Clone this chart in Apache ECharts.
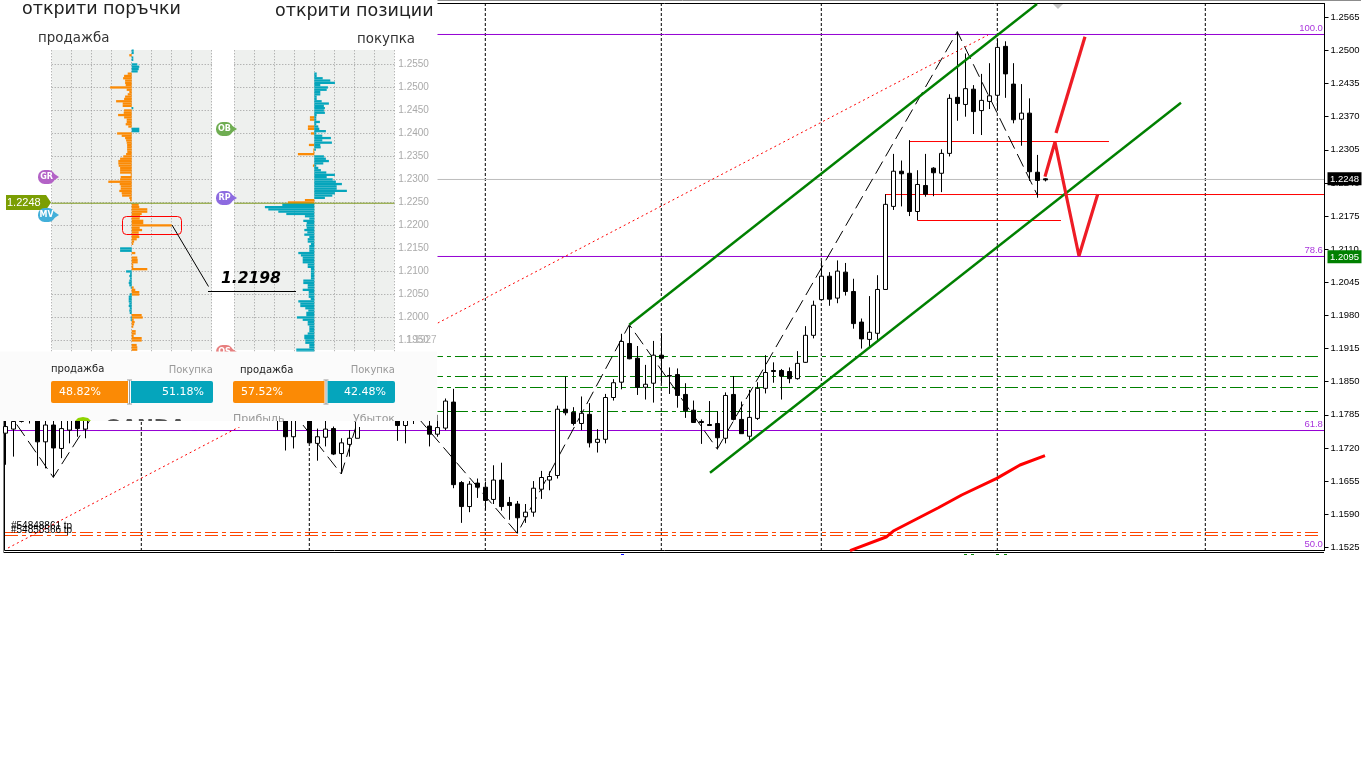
<!DOCTYPE html>
<html><head><meta charset="utf-8">
<style>html,body{margin:0;padding:0;background:#fff}#c{width:1366px;height:768px}</style>
<script src="https://cdn.jsdelivr.net/npm/echarts@6/dist/echarts.min.js"></script>
</head><body><div id="c"></div>
<script>
// ---------- main price chart data: [open, close, low, high], index = bar number ----------
const H = ['-','-','-','-'];
const candlesLeft = [ // bars 0-54 (most hidden by the order-book panel)
[1.1749,1.1762,1.1687,1.1785],[1.1757,1.1772,1.1703,1.1785],[1.1772,1.1780,1.1770,1.1785],[1.1785,1.1790,1.1768,1.1795],
[1.1790,1.1732,1.1685,1.1795],[1.1732,1.1765,1.1680,1.1785],[1.1765,1.1720,1.1662,1.1785],[1.1719,1.1758,1.1700,1.1785],
[1.1755,1.1790,1.1729,1.1795],[1.1790,1.1758,1.1742,1.1795],[1.1757,1.1790,1.1739,1.1795],
H,H,H,H,H,H,H,H,H,H,H,H,H,H,H,H,H,H,H,H,H,H,H,
[1.1790,1.1785,1.1755,1.1795],[1.1790,1.1742,1.1715,1.1795],[1.1742,1.1790,1.1719,1.1795],H,
[1.1790,1.1730,1.1729,1.1795],[1.1729,1.1742,1.1695,1.1758],[1.1741,1.1757,1.1723,1.1775],[1.1758,1.1708,1.1706,1.1762],
[1.1709,1.1730,1.1669,1.1739],[1.1727,1.1739,1.1703,1.1755],[1.1739,1.1790,1.1739,1.1795],H,H,H,H,
[1.1790,1.1764,1.1734,1.1795],[1.1764,1.1790,1.1729,1.1795],[1.1790,1.1785,1.1767,1.1795],H,
[1.1763,1.1747,1.1723,1.1785],[1.1747,1.1760,1.1742,1.1785]];
const candlesMid = [ // bars 55-101
[1.1759,1.1812,1.1755,1.1817],[1.1810,1.1648,1.1641,1.1836],[1.1652,1.1605,1.1573,1.1655],[1.1605,1.1649,1.1594,1.1655],
[1.1651,1.1643,1.1622,1.1660],[1.1643,1.1617,1.1598,1.1654],[1.1619,1.1657,1.1610,1.1686],[1.1657,1.1605,1.1597,1.1691],
[1.1613,1.1607,1.1579,1.1624],[1.1610,1.1583,1.1553,1.1616],[1.1585,1.1594,1.1573,1.1610],[1.1594,1.1641,1.1585,1.1655],
[1.1639,1.1662,1.1620,1.1675],[1.1657,1.1664,1.1637,1.1674],[1.1666,1.1796,1.1660,1.1803],[1.1796,1.1789,1.1784,1.1860],
[1.1790,1.1768,1.1764,1.1800],[1.1768,1.1788,1.1755,1.1821],[1.1786,1.1730,1.1721,1.1808],[1.1731,1.1737,1.1711,1.1757],
[1.1737,1.1819,1.1729,1.1826],[1.1819,1.1848,1.1813,1.1855],[1.1849,1.1929,1.1835,1.1944],[1.1925,1.1895,1.1894,1.1960],
[1.1896,1.1839,1.1824,1.1920],[1.1839,1.1845,1.1815,1.1883],[1.1847,1.1902,1.1809,1.1930],[1.1902,1.1896,1.1847,1.1945],
[1.1862,1.1861,1.1826,1.1878],[1.1864,1.1823,1.1799,1.1876],[1.1825,1.1793,1.1779,1.1847],[1.1794,1.1770,1.1770,1.1813],
[1.1772,1.1770,1.1728,1.1776],[1.1766,1.1764,1.1764,1.1812],[1.1768,1.1740,1.1717,1.1792],[1.1739,1.1823,1.1729,1.1829],
[1.1825,1.1776,1.1774,1.1861],[1.1776,1.1748,1.1748,1.1811],[1.1743,1.1780,1.1736,1.1834],[1.1778,1.1837,1.1775,1.1849],
[1.1837,1.1868,1.1827,1.1902],[1.1872,1.1870,1.1848,1.1888],[1.1872,1.1861,1.1815,1.1875],[1.1870,1.1856,1.1847,1.1878],
[1.1856,1.1886,1.1854,1.1910],[1.1888,1.1941,1.1887,1.1959],[1.1941,1.2000,1.1935,1.2009]];
const candlesRight = [ // bars 102-130
[1.2011,1.2057,1.2010,1.2087],[1.2057,1.2012,1.1999,1.2065],[1.2014,1.2067,1.2004,1.2088],[1.2065,1.2027,1.2019,1.2083],
[1.2027,1.1964,1.1954,1.2052],[1.1967,1.1934,1.1915,1.1974],[1.1933,1.1947,1.1916,1.2018],[1.1945,1.2031,1.1932,1.2059],
[1.2031,1.2198,1.2031,1.2218],[1.2194,1.2263,1.2187,1.2297],[1.2263,1.2258,1.2194,1.2284],[1.2259,1.2184,1.2175,1.2324],
[1.2184,1.2237,1.2167,1.2265],[1.2235,1.2218,1.2213,1.2297],[1.2269,1.2260,1.2214,1.2271],[1.2259,1.2298,1.2222,1.2306],
[1.2298,1.2406,1.2292,1.2414],[1.2408,1.2396,1.2362,1.2537],[1.2394,1.2425,1.2370,1.2494],[1.2424,1.2380,1.2336,1.2432],
[1.2382,1.2402,1.2334,1.2454],[1.2400,1.2411,1.2385,1.2475],[1.2412,1.2506,1.2383,1.2522],[1.2508,1.2454,1.2407,1.2518],
[1.2434,1.2364,1.2357,1.2475],[1.2365,1.2377,1.2313,1.2434],[1.2377,1.2262,1.2244,1.2406],[1.2261,1.2245,1.2211,1.2295],
[1.2248,1.2246,1.2243,1.2249]];
const barCount = 166;

// price axis
const yTicks = [1.1525,1.1590,1.1655,1.1720,1.1785,1.1850,1.1915,1.1980,1.2045,1.2110,1.2175,1.2240,1.2305,1.2370,1.2435,1.2500,1.2565];
const priceMin = 1.15178, priceMax = 1.25931;
const frameMin = 1.15188, frameMax = 1.25921;
const tagBid = 1.2248, tagGreen = 1.2095;

// horizontal levels [price]
const fibLevels = [1.25313,1.20957,1.17542];
const fibLabels = [['100.0',1.25313],['78.6',1.20957],['61.8',1.17542],['50.0',1.15185]];
const greenLevels = [1.18994,1.18602,1.18386,1.17915];
const orangeLevels = [1.15541,1.15482];
const bidLevel = 1.22468;
const redLevels = [[110,164.84,1.22173],[113,137.96,1.23213],[114,131.96,1.21663]]; // from bar, to bar, price
const vGridBars = [17,38,60,82,102,124,150];

// trend lines as [bar, price]
const channelUpper = [[78,1.19618],[128.96,1.25912]];
const channelLower = [[88.09,1.16714],[146.96,1.23975]];
const dottedTrend = [[0.34,1.15237],[122.84,1.25303]];
const zigzag = [[0,1.17984],[6,1.16624],[22.34,1.20633],[42,1.16689],[46.14,1.18788],[64,1.15525],[78,1.19618],[89,1.17179],[119,1.25368],[129,1.22164]];
const forecastA = [[131.34,1.2338],[134.96,1.2527]];
const forecastB = [[129.96,1.22523],[131.21,1.23204],[134.21,1.20967],[136.55,1.22177]];
const redCurve = [[105.59,1.15187],[110.18,1.15458],[111,1.1557],[116.63,1.16027],[119.55,1.16277],[123.93,1.16604],[126.84,1.16865],[129.96,1.17048]];

// ---------- order book: buckets of 0.0005 from 1.2600 downwards, signed % ----------
const bookLeftOrange = [
0,0,0,0,0,0,-.12,0,0,0, 0,0,0,0,-.2,-.38,-.43,-.33,-.33,-.3,
-1.08,-.25,-.12,-.2,-.33,-.38,-.78,-.45,-.45,0, -.38,-.4,-.68,-.38,-.25,-.25,-.3,-.17,0,0,
-.73,-.5,-.33,-.28,-.25,-.23,-.23,-.23,-.22,-.28, -.42,-.58,-.67,-.67,-.65,-.58,-.58,-.58,-.05,-.55,
-.58,-1.17,-.6,-.55,-.55,-.62,-.5,-.48,-.12,-.08, 0,.35,.38,.78,.78,.5,.42,.4,.58,.58,
2,.4,.52,.35,.35,.38,.25,.12,.08,0, 0,0,.18,0,.28,.3,.3,.08,.08,.78,
0,0,0,0,0,0,0,.1,.18,.38, .38,0,0,0,0,0,0,0,0,.5,
.55,.1,.15,.12,.08,0,.2,.2,.1,.5, .5,0,.25,.28,.28,0,0,0,0,0];
const bookLeftTeal = [
0,0,0,0,.1,.1,0,.08,.08,0, .28,.38,.35,.3,0,0,0,0,0,0,
0,0,0,0,0,0,0,0,0,.08, 0,0,0,0,0,0,0,0,.38,.38,
0,0,0,0,0,0,0,0,0,0, 0,0,0,0,0,0,0,0,0,0,
0,0,0,0,0,0,0,0,0,0, 0,0,0,0,0,0,0,0,0,0,
0,0,0,0,0,0,0,0,0,0, -.58,-.58,0,0,0,0,0,0,0,0,
-.28,-.08,-.12,-.08,-.12,-.15,-.12,-.05,0,0, -.1,-.15,-.15,-.15,-.12,-.15,-.1,-.12,-.1,0,
-.05,-.05,0,0,0,0,0,0,0,0, 0,0,0,0,0,0,0,0,0,0];
const bookRightOrange = [
0,0,0,0,0,0,0,0,0,0, 0,0,0,0,0,0,0,0,0,0,
0,0,0,0,0,0,0,0,0,0, 0,0,0,-.22,-.22,0,0,-.32,-.32,0,
-.17,0,0,0,0,-.27,0,-.05,-.05,-.82, 0,0,0,0,-.07,0,0,0,0,0,
0,0,0,0,0,0,0,0,0,-.47, -1.32,0,0,0,0,0,0,0,0,0,
0,0,0,0,0,0,0,0,0,0, 0,0,0,0,0,0,0,0,0,0,
0,0,0,0,0,0,0,0,0,0, 0,0,0,0,0,0,0,0,0,0,
0,0,0,0,0,0,0,0,0,0, 0,0,0,0,0,0,0,0,0,0];
const bookRightTeal = [
0,0,0,0,0,0,0,0,0,0, 0,0,0,0,.12,.12,.42,.8,1.03,.3,
.68,.62,.3,.3,.12,.12,.37,.73,.48,.53, .48,.53,.12,.1,.1,.28,.1,.2,.25,.58,
.1,.4,.83,.4,.88,.3,.32,.08,0,0, .48,.58,.73,.45,.1,.2,.33,.6,1.03,.62,
.92,1.08,1.38,1.12,1.12,1.63,1.03,.9,.53,0, 0,-1.6,-2.47,-2.3,-1.8,-1.4,-.47,-.25,-.55,-.38,
-.4,-.38,-.5,-.35,-.5,-.25,-.33,-.33,-.17,-.25, -.25,-.25,-.8,-.67,-.58,-.58,-.58,-.33,-.33,-.17,
-.17,-.17,-.17,-.17,-.55,-.55,-.33,-.33,-.58,-.28, -.28,-.28,-.18,-.8,-.7,-.7,-.45,-.3,-.4,-.4,
-.87,-.58,-.33,-.33,-.25,-.25,-.25,-.33,-.5,-.5, -.45,-.45,-.25,-.25,-.9,-.9,0,0,0,0];
const bookPrice = 1.2248;
const sentimentOrders = [48.82,51.18];
const sentimentPositions = [57.52,42.48];

// ---------- colours ----------
const ORANGE='#fb8a05', TEAL='#05a5bc', PURPLE='#9400d3', GREEN='#008000', REDORANGE='#ff4500';

const candles = candlesLeft.concat(candlesMid, candlesRight);
const xCats = Array.from({length:barCount},(_,i)=>String(i));
const bookCats = bookLeftOrange.map((_,i)=>(1.26-0.0005*i).toFixed(4));

function line(data,color,width,type,z,extra){
  return Object.assign({type:'line',xAxisIndex:1,yAxisIndex:0,data:data,showSymbol:false,symbol:'none',silent:true,
    animation:false,z:z||3,lineStyle:{color:color,width:width||1,type:type||'solid'}},extra||{});
}
const series = [];
// vertical separators
const vData=[]; vGridBars.forEach(b=>{vData.push([b,priceMin],[b,priceMax],[b,null]);});
series.push(line(vData,'#000',1,[3,2],2,{connectNulls:false}));
// levels
greenLevels.forEach(p=>series.push(line([[-0.04,p],[164.34,p]],GREEN,1,[13,4,4,4],2)));
orangeLevels.forEach(p=>series.push(line([[-0.04,p],[164.34,p]],REDORANGE,1,[13,4,4,4],2)));
series.push(line([[-0.04,bidLevel],[164.84,bidLevel]],'#bdbdbd',1,'solid',2));
fibLevels.forEach(p=>series.push(line([[-0.04,p],[164.84,p]],PURPLE,1,'solid',3)));
redLevels.forEach(r=>series.push(line([[r[0],r[2]],[r[1],r[2]]],'#f00',1,'solid',3)));
// candles
series.push({type:'candlestick',xAxisIndex:0,yAxisIndex:0,data:candles,barWidth:5,silent:true,animation:false,z:3,
  itemStyle:{color:'#fff',color0:'#000',borderColor:'#000',borderColor0:'#000',borderWidth:1}});
// trend lines
series.push(line(dottedTrend,'#f00',1,[2,3],3));
series.push(line(zigzag,'#000',1,[14,6],3));
series.push(line(channelUpper,GREEN,2.4,'solid',4));
series.push(line(channelLower,GREEN,2.4,'solid',4));
series.push(line(forecastA,'#ee1c25',3.2,'solid',4));
series.push(line(forecastB,'#ee1c25',3.2,'solid',4));
series.push(line(redCurve,'#f00',3,'solid',4));
// 61.8 level and separator where they pass under the panel's clipped logo
series.push(line([[11.5,fibLevels[2]],[24,fibLevels[2]]],PURPLE,1,'solid',14));
series.push(line([[17,1.1771],[17,1.1743]],'#000',1,[3,2],14));
// fib labels
series.push({type:'scatter',xAxisIndex:1,yAxisIndex:0,symbolSize:0,silent:true,animation:false,clip:false,z:4,
  data:fibLabels.map(f=>({value:[164.7,f[1]],name:f[0]})),
  label:{show:true,position:'left',distance:0,offset:[0,-6],formatter:'{b}',color:PURPLE,fontFamily:'Liberation Sans',fontSize:9.5}});
// order book
function bookBar(x,y,d,c){return {type:'bar',xAxisIndex:x,yAxisIndex:y,data:d,barWidth:'100%',barGap:'-100%',silent:true,animation:false,z:8,itemStyle:{color:c}};}
series.push(bookBar(7,3,bookLeftOrange,ORANGE),bookBar(7,3,bookLeftTeal,TEAL),bookBar(8,5,bookRightOrange,ORANGE),bookBar(8,5,bookRightTeal,TEAL));
['3|4','4|6'].forEach(s=>{const a=s.split('|').map(Number);
  series.push({type:'line',xAxisIndex:a[0],yAxisIndex:a[1],data:[[-4,bookPrice],[4,bookPrice]],symbol:'none',silent:true,animation:false,z:9,lineStyle:{color:'#7e9a1e',width:1}});});
// sentiment bars
function sent(x,y,vals){
  const lab=(pos,dist)=>({show:true,position:pos,distance:dist,color:'#fff',fontFamily:'DejaVu Sans',fontSize:11,formatter:p=>p.value.toFixed(2)+'%'});
  return [
   {type:'bar',stack:'s'+x,xAxisIndex:x,yAxisIndex:y,data:[vals[0]],barWidth:22,silent:true,animation:false,z:12,itemStyle:{color:ORANGE,borderRadius:[2,0,0,2]},label:lab('insideLeft',8)},
   {type:'bar',stack:'s'+x,xAxisIndex:x,yAxisIndex:y,data:[vals[1]],barWidth:22,silent:true,animation:false,z:12,itemStyle:{color:TEAL,borderRadius:[0,2,2,0]},label:lab('insideRight',9)}];
}
series.push(...sent(5,7,sentimentOrders),...sent(6,8,sentimentPositions));

// ---------- page furniture ----------
const g=[];
const R=(x,y,w,h,fill,z,r,stroke)=>g.push({type:'rect',shape:{x,y,width:w,height:h,r:r||0},style:{fill:fill,stroke:stroke||null,lineWidth:1},z:z,silent:true});
const L=(pts,color,w,z)=>g.push({type:'polyline',shape:{points:pts},style:{stroke:color,fill:null,lineWidth:w||1},z:z,silent:true});
const P=(pts,fill,z)=>g.push({type:'polygon',shape:{points:pts},style:{fill:fill},z:z,silent:true});
const T=(x,y,t,size,color,align,z,font)=>g.push({type:'text',style:{x:x,y:y,text:t,fill:color,font:font||(size+'px "DejaVu Sans"'),textAlign:align||'left',textVerticalAlign:'middle'},z:z,silent:true});

// frame extras
L([[4,0.5],[1361,0.5]],'#8c8c8c',1,1);
L([[4,552.5],[1324,552.5]],'#000',1,1);
L([[3.5,421],[3.5,553]],'#888',1,1);
P([[1053,4],[1063,4],[1058,9]],'#c4c4c4',1);
L([[621,554.5],[624,554.5]],'#00f',1,1);
[[964,967],[971,974],[996,999],[1004,1007]].forEach(s=>L([[s[0],554.5],[s[1],554.5]],GREEN,1,1));
T(11,526.5,'#54848861 tp',0,'#000','left',3,'10px "Liberation Sans"');
T(11,530,'#54858566 tp',0,'#000','left',3,'10px "Liberation Sans"');

// panel base
R(0,0,437.5,421,'#ffffff',5);
R(51.7,50,160,300,'#eef0ee',6);
R(234.3,50,160,300,'#eef0ee',6);

// callouts over the book
R(122.5,216.5,59,18,null,10,4,'#f00');
L([[172,225],[208.5,286.5]],'#000',1,10);
L([[208,291.5],[296,291.5]],'#000',1,10);
T(221,279,'1.2198',0,'#000','left',10,'italic bold 15.5px "DejaVu Sans"');
T(406,340,'1.1927',0,'#b5b5b5','left',9,'10px "Liberation Sans"');

// tag and bubbles
P([[6,195],[46,195],[51,202.5],[46,210],[6,210]],'#7b9e03',10);
T(7,202.5,'1.2248',0,'#fff','left',11,'11px "Liberation Sans"');
function bubble(x,y,color,text,z){
  R(x,y-7,17,14,color,z,6.5);
  P([[x+15,y-4],[x+21,y],[x+15,y+4]],color,z);
  T(x+8.5,y,text,0,'#fff','center',z,'bold 8px "DejaVu Sans"');
}
bubble(38,177,'#b362c6','GR',10);
bubble(38,215,'#42afd9','MV',10);
bubble(216,129,'#6fad52','OB',10);
bubble(216,198,'#8d6be0','RP',10);
bubble(216,352,'#e77f7f','OS',10);

// titles
R(0,0,437,49,'#ffffff',11);
T(22,9.5,'открити поръчки',0,'#222','left',12,'17.5px "DejaVu Sans"');
T(275,11.5,'открити позиции',0,'#222','left',12,'17.5px "DejaVu Sans"');
T(38,39,'продажба',0,'#333','left',12,'13.4px "DejaVu Sans"');
T(415,40,'покупка',0,'#333','right',12,'13.4px "DejaVu Sans"');

// sentiment panel
R(0,351.5,437,69.5,'#fbfbfb',11);
T(51,369,'продажба',0,'#222','left',12,'10px "DejaVu Sans"');
T(213,370.5,'Покупка',0,'#999','right',12,'10px "DejaVu Sans"');
T(240,370.5,'продажба',0,'#222','left',12,'10px "DejaVu Sans"');
T(395,370.5,'Покупка',0,'#999','right',12,'10px "DejaVu Sans"');
T(233,419,'Прибыль',0,'#999','left',12,'11px "DejaVu Sans"');
T(395,419,'Убыток',0,'#999','right',12,'11px "DejaVu Sans"');
T(105,428,'OANDA',0,'#555','left',12,'bold 20px "DejaVu Sans"');
P([[75,421],[78,418],[83,417],[88,418],[91,421]],'#8fd400',12);
[[100,421,92,14],[233,421,44,6],[359,421,36,6]].forEach(s=>R(s[0],s[1],s[2],s[3],'#ffffff',13));
[129.5,326].forEach(x=>{
  R(x-1.5,379,3,26,'#fbfbfb',13);
  L([[x,380],[x,404]],'#999',1,14);
  L([[x-2.5,380],[x+2.5,380]],'#999',1,14);
  L([[x-2.5,404],[x+2.5,404]],'#999',1,14);
});

const splitDotted={show:true,lineStyle:{color:'#9a9a9a',type:[1,2],width:1}};
const hiddenX=(grid,extra)=>Object.assign({gridIndex:grid,show:false},extra);
const option={
  animation:false,
  backgroundColor:'#fff',
  grid:[
    {left:1.3,top:3,width:1328,height:548},
    {left:4.5,top:3.5,width:1320,height:547,show:true,borderColor:'#000',borderWidth:1,backgroundColor:'transparent'},
    {left:51.7,top:41.3,width:160,height:322},
    {left:234.3,top:41.3,width:160,height:322},
    {left:51,top:381,width:162,height:22},
    {left:233,top:381,width:162,height:22},
    {left:51.7,top:40.3,width:160,height:322},
    {left:234.3,top:40.3,width:160,height:322}
  ],
  xAxis:[
    hiddenX(0,{type:'category',data:xCats,boundaryGap:true}),
    hiddenX(0,{type:'value',min:-0.5,max:barCount-0.5}),
    hiddenX(1,{type:'value',min:0,max:1}),
    {gridIndex:2,type:'value',min:-4,max:4,interval:1,z:7,axisLine:{show:false},axisTick:{show:false},axisLabel:{show:false},splitLine:splitDotted},
    {gridIndex:3,type:'value',min:-4,max:4,interval:1,z:7,axisLine:{show:false},axisTick:{show:false},axisLabel:{show:false},splitLine:splitDotted},
    hiddenX(4,{type:'value',min:0,max:100}),
    hiddenX(5,{type:'value',min:0,max:100}),
    hiddenX(6,{type:'value',min:-4,max:4}),
    hiddenX(7,{type:'value',min:-4,max:4})
  ],
  yAxis:[
    {gridIndex:0,type:'value',min:priceMin,max:priceMax,show:false},
    {gridIndex:1,type:'value',min:frameMin,max:frameMax,position:'right',z:3,scale:true,
      axisLine:{show:true,onZero:false,lineStyle:{color:'#000',width:1}},splitLine:{show:false},
      axisTick:{show:true,length:4,inside:false,customValues:yTicks,lineStyle:{color:'#000'}},
      axisLabel:{show:true,customValues:yTicks,margin:6,color:'#000',fontFamily:'Liberation Sans',fontSize:9.5,showMinLabel:true,showMaxLabel:true,hideOverlap:false,formatter:v=>v.toFixed(4)}},
    {gridIndex:1,type:'value',min:frameMin,max:frameMax,position:'right',z:4,scale:true,
      axisLine:{show:false},axisTick:{show:false},splitLine:{show:false},
      axisLabel:{show:true,customValues:[tagBid,tagGreen],margin:3,hideOverlap:false,
        formatter:v=>(Math.abs(v-tagBid)<1e-6?'{k|':'{g|')+v.toFixed(4)+'}',
        rich:{k:{backgroundColor:'#000',color:'#fff',fontFamily:'Liberation Sans',fontSize:9.5,padding:[2,4,1,4],width:26,align:'center'},
              g:{backgroundColor:GREEN,color:'#fff',fontFamily:'Liberation Sans',fontSize:9.5,padding:[2,4,1,4],width:26,align:'center'}}}},
    {gridIndex:6,type:'category',data:bookCats,inverse:true,show:false},
    {gridIndex:2,type:'value',min:1.19,max:1.26,interval:0.005,z:7,axisLine:{show:false},axisTick:{show:false},axisLabel:{show:false},splitLine:splitDotted},
    {gridIndex:7,type:'category',data:bookCats,inverse:true,show:false},
    {gridIndex:3,type:'value',min:1.19,max:1.26,interval:0.005,z:7,position:'right',axisLine:{show:false},axisTick:{show:false},splitLine:splitDotted,
      axisLabel:{show:true,margin:4,color:'#aaa',fontFamily:'Liberation Sans',fontSize:10,formatter:v=>v.toFixed(4)}},
    {gridIndex:4,type:'category',data:['orders'],show:false},
    {gridIndex:5,type:'category',data:['positions'],show:false}
  ],
  graphic:{elements:g},
  series:series
};
const chart=echarts.init(document.getElementById('c'),null,{renderer:'canvas',width:1366,height:768});
chart.setOption(option);
</script></body></html>
